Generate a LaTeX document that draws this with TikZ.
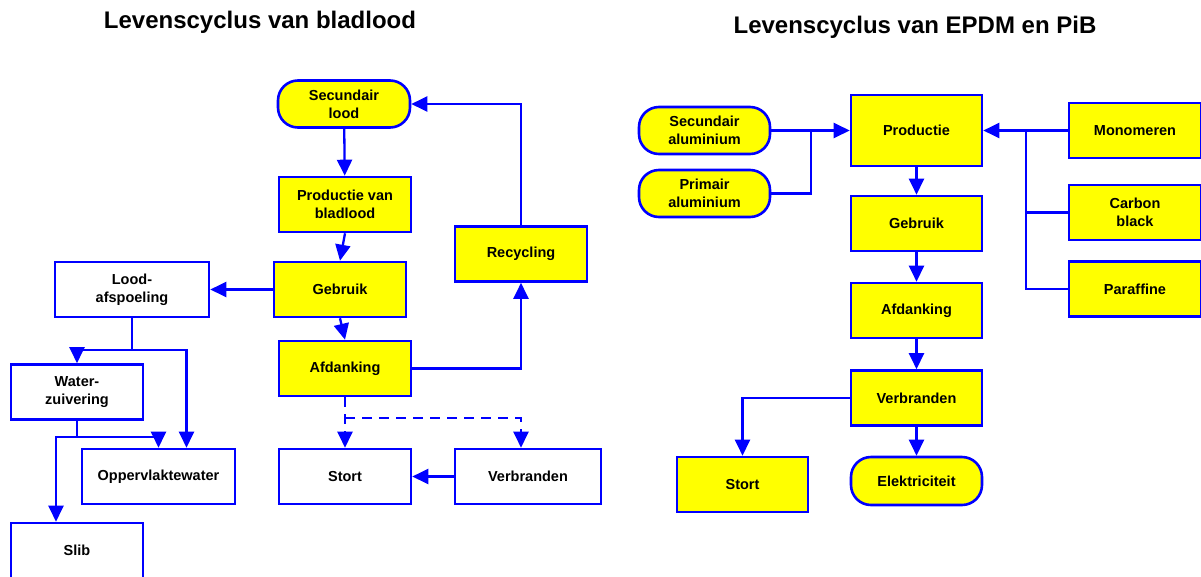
\documentclass[tikz,border=0pt]{standalone}
\usepackage{fontspec}
\setmainfont{Liberation Sans}
\usetikzlibrary{arrows.meta}
\definecolor{lijnblauw}{RGB}{0,0,255}
\definecolor{vulgeel}{RGB}{255,255,0}
\tikzset{
  blok/.style={
    draw=lijnblauw,
    line width=2.6pt,
    rectangle,
    align=center,
    inner sep=0pt,
    font=\bfseries\fontsize{14.5}{18}\selectfont,
    minimum width=132pt,
    minimum height=55pt
  },
  geelblok/.style={blok, fill=vulgeel},
  rondblok/.style={geelblok, rounded corners=20pt, minimum height=47pt},
  lijn/.style={draw=lijnblauw, line width=2.3pt},
  pijl/.style={lijn, -{Triangle[length=16pt,width=15pt]}},
  streep/.style={dash pattern=on 10pt off 7pt},
  titel/.style={font=\bfseries\fontsize{24}{28}\selectfont}
}

\begin{document}
\begin{tikzpicture}[x=1pt,y=-1pt]
  \useasboundingbox[fill=white] (0,0) rectangle (1201,576);

  % bladlood
  \node[titel] (titelL) at (260,22) {Levenscyclus van bladlood};
  \node[rondblok] (seclood) at (344,104) {Secundair\\lood};
  \node[geelblok] (prodbl) at (345,204.5) {Productie van\\bladlood};
  \node[geelblok] (gebruik) at (340,289.5) {Gebruik};
  \node[geelblok] (afdank) at (345,368.5) {Afdanking};
  \node[geelblok] (recyc) at (521,254) {Recycling};
  \node[blok, minimum width=154pt] (loodaf) at (132,289.5) {Lood-\\afspoeling};
  \node[blok] (water) at (77,392) {Water-\\zuivering};
  \node[blok, minimum width=153pt] (opp) at (158.5,476.5) {Oppervlaktewater};
  \node[blok] (slib) at (77,550.5) {Slib};
  \node[blok] (stortL) at (345,476.5) {Stort};
  \node[blok, minimum width=146pt] (verbrL) at (528,476.5) {Verbranden};
  \coordinate (splits) at (345,418);

  \draw[pijl] (seclood) -- (prodbl);
  \draw[pijl] (prodbl.south) -- (gebruik.north);
  \draw[pijl] (gebruik.south) -- (afdank.north);
  \draw[pijl] (gebruik) -- (loodaf);
  \draw[pijl] (afdank.east) -| (recyc.south);
  \draw[pijl] (recyc.north) |- (seclood.east);
  \draw[pijl, streep] (afdank.south) -- (stortL.north);
  \draw[pijl, streep] (splits) -| (recyc |- verbrL.north);
  \draw[pijl] (verbrL) -- (stortL);
  \draw[pijl] (loodaf.south) -- ++(0,32) -| (water.north);
  \draw[pijl] (loodaf.south) -- ++(0,32) -| ([xshift=28pt]opp.north);
  \draw[pijl] (water.south) -- ++(0,16) -| (opp.north);
  \draw[pijl] (water.south) -- ++(0,16) -| ([xshift=-21pt]slib.north);

  % EPDM en PiB
  \node[titel] (titelR) at (915,27) {Levenscyclus van EPDM en PiB};
  \node[rondblok, minimum width=131pt] (secal) at (704.5,130.5) {Secundair\\aluminium};
  \node[rondblok, minimum width=131pt] (primal) at (704.5,193.5) {Primair\\aluminium};
  \node[geelblok, minimum width=131pt, minimum height=71pt] (prod) at (916.5,130.5) {Productie};
  \node[geelblok, minimum width=131pt] (gebr) at (916.5,223.5) {Gebruik};
  \node[geelblok, minimum width=131pt] (afd) at (916.5,310.5) {Afdanking};
  \node[geelblok, minimum width=131pt] (verb) at (916.5,398) {Verbranden};
  \node[geelblok, minimum width=131pt] (stortR) at (742.5,484.5) {Stort};
  \node[rondblok, minimum width=131pt, minimum height=48pt] (elek) at (916.5,481) {Elektriciteit};
  \node[geelblok] (mono) at (1135,130.5) {Monomeren};
  \node[geelblok] (carbon) at (1135,212.5) {Carbon\\black};
  \node[geelblok] (paraf) at (1135,289) {Paraffine};
  \coordinate (knoopL) at (811,130.5);
  \coordinate (knoopR) at (1026,130.5);

  \draw[pijl] (secal) -- (prod);
  \draw[lijn] (primal.east) -| (knoopL);
  \draw[pijl] (mono) -- (prod);
  \draw[lijn] (carbon.west) -| (knoopR);
  \draw[lijn] (paraf.west) -| (knoopR);
  \draw[pijl] (prod) -- (gebr);
  \draw[pijl] (gebr) -- (afd);
  \draw[pijl] (afd) -- (verb);
  \draw[pijl] (verb) -- (elek);
  \draw[pijl] (verb.west) -| (stortR.north);
\end{tikzpicture}
\end{document}
